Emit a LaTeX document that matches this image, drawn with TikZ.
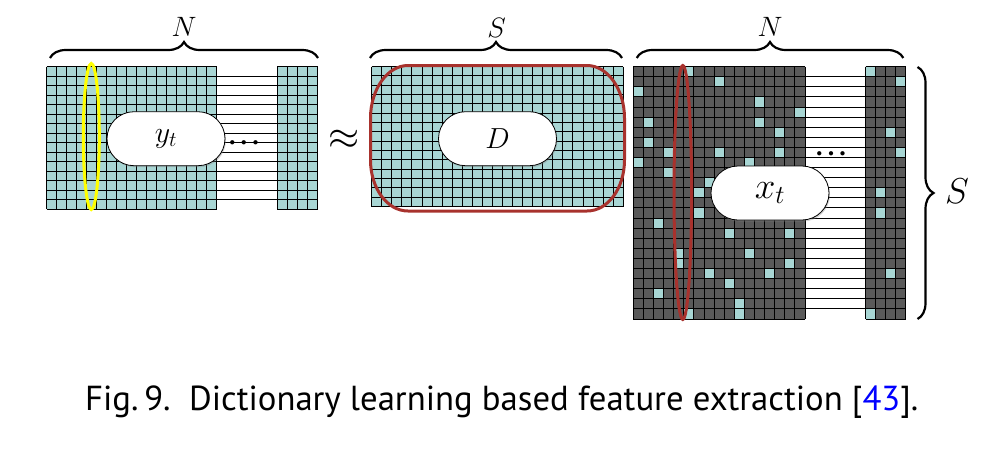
\RequirePackage{fix-cm}
\documentclass[tikz,border=0pt]{standalone}
\usepackage{fontspec}
\newfontfamily\capfont{PT Sans}
\usetikzlibrary{decorations.pathreplacing,shapes.misc,shadows}
\definecolor{cellcyan}{HTML}{A8D6D4}
\definecolor{celldark}{HTML}{5A5A5A}
\definecolor{ringred}{HTML}{A8322D}
\definecolor{ringyellow}{HTML}{FFFF00}
\definecolor{citeblue}{HTML}{0000FF}
\begin{document}
\begin{tikzpicture}[x=1pt,y=-1pt,
  gridline/.style={black, line width=1pt},
  varbox/.style={rounded rectangle, draw=black, line width=0.8pt, fill=white,
    minimum width=118pt, minimum height=54pt, inner sep=0pt,
    drop shadow={shadow xshift=1pt, shadow yshift=-1.5pt, opacity=0.35}},
  bracepath/.style={decorate, decoration={brace, amplitude=16pt}, line width=2.2pt},
  dimlabel/.style={inner sep=0pt, font=\fontsize{28}{32}\selectfont},
  dotslabel/.style={inner sep=0pt, font=\fontsize{11}{13}\selectfont},
]
\useasboundingbox (0,0) rectangle (994,448);

% ---------------- Y matrix ----------------
\fill[cellcyan] (46.7,66.7) rectangle (216.7,209);
\fill[cellcyan] (277,66.7) rectangle (317.7,209);
\foreach \i in {1,...,14}
  \draw[gridline] (46.7,{66.7+\i*9.487}) -- (317.7,{66.7+\i*9.487});
\foreach \i in {0,15} {
  \draw[gridline] (46.7,{66.7+\i*9.487}) -- (216.7,{66.7+\i*9.487});
  \draw[gridline] (277,{66.7+\i*9.487}) -- (317.7,{66.7+\i*9.487});
}
\foreach \j in {0,...,17}
  \draw[gridline] ({46.7+\j*10},66.7) -- ({46.7+\j*10},209);
\foreach \j in {0,...,4}
  \draw[gridline] ({277+\j*10.175},66.7) -- ({277+\j*10.175},209);

% ---------------- D matrix ----------------
\fill[cellcyan] (371.7,66.5) rectangle (623.3,206.5);
\foreach \i in {0,...,15}
  \draw[gridline] (371.7,{66.5+\i*9.333}) -- (623.3,{66.5+\i*9.333});
\foreach \j in {0,...,25}
  \draw[gridline] ({371.7+\j*10.064},66.5) -- ({371.7+\j*10.064},206.5);

% ---------------- X matrix ----------------
\fill[celldark] (633.3,66.7) rectangle (805,319);
\fill[celldark] (865.7,66.7) rectangle (905.7,319);
\foreach \c/\r in {5/0,8/1,0/2,12/3,16/4,1/5,12/5,14/6,1/7,3/8,8/8,14/8,0/9,11/9,
                   3/10,7/11,6/12,6/14,2/15,9/16,15/16,4/18,11/18,4/19,15/19,
                   7/20,13/20,9/21,2/22,10/23,5/24,10/24}
  \fill[cellcyan] ({633.3+\c*10.1},{66.7+\r*10.092}) rectangle ++(10.1,10.092);
\foreach \c/\r in {0/0,3/1,2/6,3/8,1/12,1/14,2/20,0/24}
  \fill[cellcyan] ({865.7+\c*10},{66.7+\r*10.092}) rectangle ++(10,10.092);
\foreach \i in {1,...,24}
  \draw[gridline] (633.3,{66.7+\i*10.092}) -- (905.7,{66.7+\i*10.092});
\foreach \i in {0,25} {
  \draw[gridline] (633.3,{66.7+\i*10.092}) -- (805,{66.7+\i*10.092});
  \draw[gridline] (865.7,{66.7+\i*10.092}) -- (905.7,{66.7+\i*10.092});
}
\foreach \j in {0,...,17}
  \draw[gridline] ({633.3+\j*10.1},66.7) -- ({633.3+\j*10.1},319);
\foreach \j in {0,...,4}
  \draw[gridline] ({865.7+\j*10},66.7) -- ({865.7+\j*10},319);

% ---------------- highlight rings ----------------
\draw[ringyellow, line width=3pt] (91.3,136.5) ellipse [x radius=8, y radius=73];
\draw[ringred, line width=3pt] (682.8,192.5) ellipse [x radius=8.8, y radius=127];
\draw[ringred, line width=3pt]
  (408,65.5) -- (587,65.5)
  .. controls (608,65.5) and (624.5,90) .. (624.5,118)
  -- (624.5,160)
  .. controls (624.5,188) and (608,211) .. (587,211)
  -- (408,211)
  .. controls (387,211) and (370.5,188) .. (370.5,160)
  -- (370.5,118)
  .. controls (370.5,90) and (387,65.5) .. cycle;

% ---------------- variable labels ----------------
\node[varbox, font=\fontsize{30}{34}\selectfont] (yt) at (166,138.7) {$y_t$};
\node[varbox, font=\fontsize{29}{33}\selectfont] (dict) at (497.5,138.7) {$D$};
\node[varbox, font=\fontsize{37}{41}\selectfont] (xt) at (770,193) {$x_t$};

\node[dotslabel] (ydots) at (244,143) {$\bullet\mkern6mu\bullet\mkern6mu\bullet$};
\node[dotslabel] (xdots) at (831,154) {$\bullet\mkern6mu\bullet\mkern6mu\bullet$};

\node[inner sep=0pt, font=\fontsize{40}{44}\selectfont] (approx) at (344,140) {$\approx$};

% ---------------- braces ----------------
\coordinate (yb1) at (50,58);
\coordinate (yb2) at (318,58);
\coordinate (db1) at (370,58);
\coordinate (db2) at (622,58);
\coordinate (xb1) at (636.7,58);
\coordinate (xb2) at (903.3,58);
\coordinate (rb1) at (917.5,67);
\coordinate (rb2) at (917.5,319);
\draw[bracepath] (yb1) -- (yb2);
\draw[bracepath] (db1) -- (db2);
\draw[bracepath] (xb1) -- (xb2);
\draw[bracepath] (rb1) -- (rb2);

\node[dimlabel] (ylab) at (184,26.5) {$N$};
\node[dimlabel] (dlab) at (496.7,27.5) {$S$};
\node[dimlabel] (xlab) at (770,26.5) {$N$};
\node[inner sep=0pt, font=\fontsize{36}{40}\selectfont] (rlab) at (957,191) {$S$};

% ---------------- caption ----------------
\node[anchor=base west, inner sep=0pt] (caption) at (85,410)
  {\resizebox{833pt}{!}{\capfont Fig.\,9.\ \ Dictionary learning based feature extraction [{\color{citeblue}43}].}};
\end{tikzpicture}
\end{document}
